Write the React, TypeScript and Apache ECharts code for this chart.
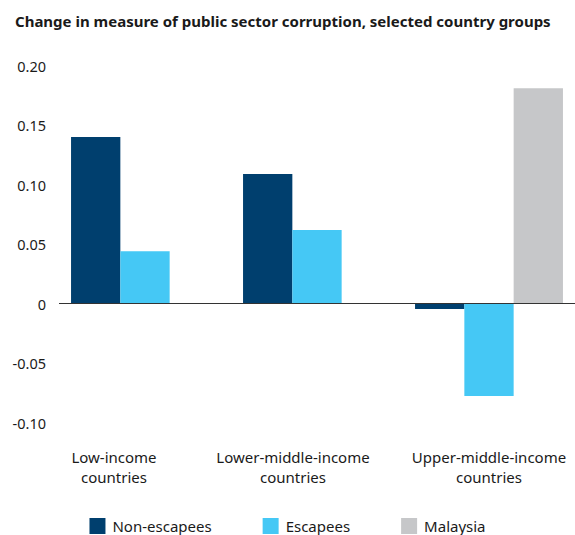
import React, { useEffect, useRef } from "react";
import * as echarts from "echarts";

const title = "Change in measure of public sector corruption, selected country groups";
const categories = ["Low-income\ncountries", "Lower-middle-income\ncountries", "Upper-middle-income\ncountries"];
const nonEscapees = [0.14, 0.109, -0.0045];
const escapees = [0.044, 0.062, -0.0775];
const malaysia: (number | null)[] = [null, null, 0.181];
const yTicks = { min: -0.1, max: 0.2, interval: 0.05 };

const FONT = "'Noto Sans'";
const labelShift = [62, 48, 0];

export default function App() {
  const ref = useRef<HTMLDivElement>(null);
  useEffect(() => {
    if (!ref.current) return;
    const chart = echarts.init(ref.current, null, { renderer: "svg" });
    const rich: any = {};
    labelShift.forEach((s, i) => {
      rich["c" + i] = {
        fontFamily: FONT,
        fontSize: 15,
        color: "#1a1a1a",
        lineHeight: 20,
        padding: [0, s, 0, 0],
      };
    });
    chart.setOption({
      animation: false,
      title: {
        text: title,
        left: 10,
        top: 8,
        textStyle: { fontFamily: FONT, fontSize: 15, fontWeight: "bold", color: "#1a1a1a" },
      },
      grid: { left: 59, right: 0, top: 65.7, bottom: 112.3, containLabel: false },
      legend: {
        bottom: 1,
        left: "center",
        icon: "rect",
        itemWidth: 16,
        itemHeight: 16,
        itemGap: 51,
        padding: 0,
        textStyle: { fontFamily: FONT, fontSize: 15, color: "#1a1a1a", padding: [0, 0, 0, 2] },
        data: ["Non-escapees", "Escapees", "Malaysia"],
      },
      xAxis: {
        type: "category",
        data: categories,
        axisLine: { show: false, onZero: false },
        axisTick: { show: false },
        axisLabel: {
          margin: 24,
          interval: 0,
          formatter: (v: string, i: number) =>
            v
              .split("\n")
              .map((line) => `{c${i}|${line}}`)
              .join("\n"),
          rich,
        },
      },
      yAxis: {
        type: "value",
        min: yTicks.min,
        max: yTicks.max,
        interval: yTicks.interval,
        splitLine: { show: false },
        axisLine: { show: false },
        axisTick: { show: false },
        axisLabel: {
          margin: 13,
          fontFamily: FONT,
          fontSize: 14.5,
          color: "#1a1a1a",
          formatter: (v: number) => (Math.abs(v) < 1e-9 ? "0" : v.toFixed(2)),
        },
      },
      series: [
        {
          name: "Non-escapees",
          type: "bar",
          data: nonEscapees,
          itemStyle: { color: "#003F6E" },
          barGap: "0%",
          barCategoryGap: "14%",
          markLine: {
            silent: true,
            symbol: "none",
            label: { show: false },
            lineStyle: { color: "#333333", width: 1, type: "solid" },
            data: [{ yAxis: 0 }],
          },
        },
        {
          name: "Escapees",
          type: "bar",
          data: escapees,
          itemStyle: { color: "#45C8F5" },
          barGap: "0%",
          barCategoryGap: "14%",
        },
        {
          name: "Malaysia",
          type: "bar",
          data: malaysia,
          itemStyle: { color: "#C6C7C9" },
          barGap: "0%",
          barCategoryGap: "14%",
        },
      ],
    });
    return () => chart.dispose();
  }, []);
  return (
    <div
      ref={ref}
      style={{ position: "fixed", left: 0, top: 0, width: 575, height: 535, background: "#fff" }}
    />
  );
}
